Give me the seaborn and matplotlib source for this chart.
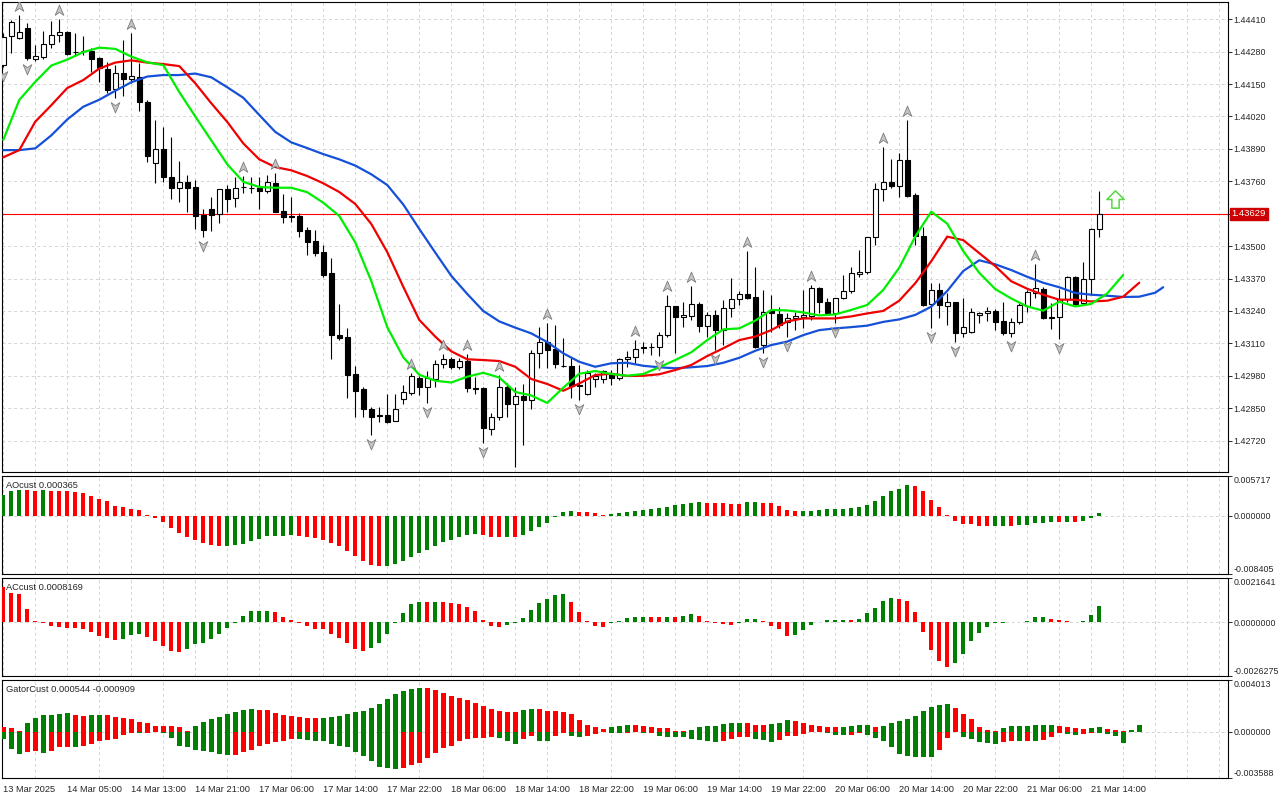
import numpy as np
import matplotlib
matplotlib.use("Agg")
import matplotlib.pyplot as plt
import seaborn as sns
from matplotlib.path import Path
from matplotlib.transforms import offset_copy

# ---- hourly candles (13 Mar 21:00 .. 21 Mar 18:00) ----
opens = [
    1.44226, 1.44343, 1.44333, 1.44373, 1.44249, 1.44260, 1.44309, 1.44347, 1.44357, 1.44280,
    1.44284, 1.44282, 1.44253, 1.44210, 1.44129, 1.44193, 1.44171, 1.44180, 1.44079, 1.43835,
    1.43888, 1.43776, 1.43732, 1.43756, 1.43736, 1.43625, 1.43647, 1.43627, 1.43728, 1.43692,
    1.43737, 1.43734, 1.43734, 1.43722, 1.43752, 1.43642, 1.43619, 1.43621, 1.43565, 1.43522,
    1.43475, 1.43391, 1.43143, 1.43134, 1.42987, 1.42927, 1.42845, 1.42822, 1.42822, 1.42800,
    1.42885, 1.42912, 1.42973, 1.42934, 1.42965, 1.43026, 1.43046, 1.43016, 1.43039, 1.42930,
    1.42930, 1.42765, 1.42813, 1.42936, 1.42867, 1.42899, 1.42883, 1.43070, 1.43114, 1.43086,
    1.43020, 1.43020, 1.42940, 1.42905, 1.42965, 1.42965, 1.42987, 1.42969, 1.43046, 1.43054,
    1.43090, 1.43097, 1.43094, 1.43143, 1.43260, 1.43214, 1.43220, 1.43268, 1.43181, 1.43224,
    1.43163, 1.43250, 1.43286, 1.43306, 1.43297, 1.43103, 1.43244, 1.43228, 1.43197, 1.43210,
    1.43217, 1.43220, 1.43330, 1.43277, 1.43233, 1.43290, 1.43321, 1.43388, 1.43397, 1.43535,
    1.43728, 1.43758, 1.43741, 1.43845, 1.43705, 1.43540, 1.43268, 1.43324, 1.43261, 1.43274,
    1.43150, 1.43157, 1.43222, 1.43230, 1.43240, 1.43200, 1.43150, 1.43197, 1.43260, 1.43310,
    1.43326, 1.43210, 1.43217, 1.43286, 1.43375, 1.43273, 1.43367, 1.43567]
highs = [
    1.44353, 1.44407, 1.44427, 1.44393, 1.44307, 1.44363, 1.44403, 1.44409, 1.44361, 1.44353,
    1.44343, 1.44293, 1.44260, 1.44240, 1.44226, 1.44327, 1.44353, 1.44233, 1.44086, 1.44006,
    1.43979, 1.43939, 1.43841, 1.43785, 1.43765, 1.43647, 1.43698, 1.43729, 1.43745, 1.43778,
    1.43782, 1.43776, 1.43776, 1.43785, 1.43794, 1.43708, 1.43696, 1.43631, 1.43575, 1.43565,
    1.43504, 1.43451, 1.43268, 1.43170, 1.43019, 1.42936, 1.42856, 1.42856, 1.42905, 1.42907,
    1.42943, 1.42990, 1.42979, 1.43000, 1.43043, 1.43066, 1.43056, 1.43050, 1.43067, 1.42976,
    1.42936, 1.42829, 1.42983, 1.42949, 1.42936, 1.42947, 1.43083, 1.43177, 1.43190, 1.43183,
    1.43130, 1.43050, 1.43023, 1.43003, 1.42990, 1.43003, 1.43003, 1.43050, 1.43080, 1.43123,
    1.43114, 1.43110, 1.43157, 1.43304, 1.43260, 1.43277, 1.43340, 1.43277, 1.43237, 1.43244,
    1.43284, 1.43371, 1.43320, 1.43480, 1.43417, 1.43324, 1.43304, 1.43257, 1.43230, 1.43237,
    1.43324, 1.43344, 1.43337, 1.43290, 1.43290, 1.43384, 1.43417, 1.43484, 1.43538, 1.43754,
    1.43899, 1.43848, 1.43872, 1.44006, 1.43712, 1.43578, 1.43353, 1.43353, 1.43313, 1.43277,
    1.43293, 1.43250, 1.43237, 1.43257, 1.43246, 1.43277, 1.43210, 1.43277, 1.43324, 1.43428,
    1.43337, 1.43270, 1.43326, 1.43380, 1.43380, 1.43435, 1.43571, 1.43721]
lows = [
    1.44220, 1.44276, 1.44329, 1.44246, 1.44244, 1.44249, 1.44293, 1.44320, 1.44265, 1.44262,
    1.44266, 1.44200, 1.44159, 1.44113, 1.44095, 1.44102, 1.44153, 1.44043, 1.43839, 1.43754,
    1.43758, 1.43689, 1.43678, 1.43638, 1.43568, 1.43535, 1.43562, 1.43594, 1.43638, 1.43658,
    1.43714, 1.43712, 1.43649, 1.43712, 1.43637, 1.43591, 1.43598, 1.43538, 1.43464, 1.43460,
    1.43377, 1.43046, 1.43123, 1.42889, 1.42816, 1.42816, 1.42742, 1.42796, 1.42789, 1.42800,
    1.42867, 1.42903, 1.42903, 1.42872, 1.42936, 1.43012, 1.43006, 1.43006, 1.42916, 1.42905,
    1.42709, 1.42742, 1.42802, 1.42816, 1.42615, 1.42702, 1.42845, 1.43010, 1.43010, 1.43010,
    1.43014, 1.42889, 1.42883, 1.42903, 1.42936, 1.42949, 1.42943, 1.42963, 1.43016, 1.43030,
    1.43070, 1.43063, 1.43059, 1.43134, 1.43072, 1.43177, 1.43204, 1.43154, 1.43137, 1.43083,
    1.43103, 1.43214, 1.43264, 1.43288, 1.43090, 1.43070, 1.43157, 1.43170, 1.43134, 1.43163,
    1.43170, 1.43204, 1.43230, 1.43224, 1.43190, 1.43286, 1.43310, 1.43377, 1.43388, 1.43504,
    1.43682, 1.43732, 1.43696, 1.43698, 1.43504, 1.43260, 1.43170, 1.43210, 1.43183, 1.43117,
    1.43137, 1.43150, 1.43190, 1.43201, 1.43163, 1.43143, 1.43134, 1.43187, 1.43237, 1.43290,
    1.43207, 1.43166, 1.43126, 1.43277, 1.43264, 1.43270, 1.43304, 1.43538]
closes = [
    1.44340, 1.44397, 1.44357, 1.44253, 1.44262, 1.44311, 1.44347, 1.44357, 1.44269, 1.44277,
    1.44282, 1.44252, 1.44213, 1.44126, 1.44193, 1.44171, 1.44184, 1.44079, 1.43863, 1.43888,
    1.43778, 1.43732, 1.43756, 1.43732, 1.43622, 1.43565, 1.43625, 1.43728, 1.43689, 1.43732,
    1.43738, 1.43733, 1.43722, 1.43756, 1.43638, 1.43618, 1.43618, 1.43562, 1.43518, 1.43474,
    1.43384, 1.43143, 1.43133, 1.42983, 1.42920, 1.42845, 1.42816, 1.42820, 1.42796, 1.42845,
    1.42916, 1.42980, 1.42934, 1.42969, 1.43026, 1.43046, 1.43016, 1.43039, 1.42930, 1.42928,
    1.42769, 1.42813, 1.42936, 1.42865, 1.42899, 1.42883, 1.43070, 1.43114, 1.43083, 1.43026,
    1.43019, 1.42940, 1.42943, 1.42990, 1.42980, 1.42999, 1.42969, 1.43046, 1.43056, 1.43086,
    1.43097, 1.43095, 1.43143, 1.43260, 1.43214, 1.43224, 1.43268, 1.43181, 1.43224, 1.43163,
    1.43250, 1.43286, 1.43306, 1.43290, 1.43097, 1.43234, 1.43230, 1.43183, 1.43210, 1.43220,
    1.43224, 1.43330, 1.43277, 1.43233, 1.43290, 1.43321, 1.43391, 1.43397, 1.43535, 1.43728,
    1.43758, 1.43742, 1.43845, 1.43701, 1.43540, 1.43264, 1.43324, 1.43264, 1.43274, 1.43150,
    1.43177, 1.43234, 1.43230, 1.43240, 1.43197, 1.43150, 1.43197, 1.43264, 1.43314, 1.43330,
    1.43210, 1.43217, 1.43288, 1.43375, 1.43268, 1.43367, 1.43567, 1.43629]

fractal_up = [2, 7, 16, 30, 34, 51, 55, 58, 62, 68, 79, 83, 86, 93, 101, 110, 113, 129]
fractal_down = [0, 3, 14, 25, 46, 53, 60, 72, 82, 89, 95, 98, 104, 116, 119, 126, 132]

signal_index = 139
signal_price = 1.43689

# ---- alligator, read every second bar (shifted forward past the last candle) ----
jaw_idx = list(range(0, 145, 2)) + [145]
jaw = [
    1.43885, 1.43885, 1.43892, 1.43944, 1.44008, 1.44059, 1.44087, 1.44123, 1.44157, 1.44180,
    1.44186, 1.44186, 1.44192, 1.44177, 1.44137, 1.44095, 1.44026, 1.43958, 1.43916, 1.43893,
    1.43869, 1.43848, 1.43823, 1.43788, 1.43745, 1.43667, 1.43569, 1.43474, 1.43381, 1.43308,
    1.43240, 1.43198, 1.43173, 1.43150, 1.43115, 1.43070, 1.43036, 1.43016, 1.43030,
    1.43032, 1.43020, 1.43014, 1.43010, 1.43014, 1.43019, 1.43032, 1.43052, 1.43080, 1.43103,
    1.43117, 1.43143, 1.43163, 1.43170, 1.43175, 1.43181, 1.43196, 1.43206,
    1.43224, 1.43257, 1.43320, 1.43400, 1.43443, 1.43427, 1.43404, 1.43377, 1.43353, 1.43335,
    1.43312, 1.43305, 1.43301, 1.43296, 1.43297, 1.43313, 1.43335]
teeth_idx = list(range(0, 143, 2))
teeth = [
    1.43856, 1.43885, 1.43999, 1.44065, 1.44134, 1.44166, 1.44212, 1.44236, 1.44245, 1.44236,
    1.44230, 1.44222, 1.44153, 1.44073, 1.43998, 1.43912, 1.43848, 1.43817, 1.43804, 1.43781,
    1.43752, 1.43717, 1.43669, 1.43589, 1.43476, 1.43337, 1.43204, 1.43137, 1.43078, 1.43046,
    1.43043, 1.43039, 1.43016, 1.42967, 1.42947, 1.42920, 1.42949, 1.42983, 1.42988,
    1.42979, 1.42980, 1.42986, 1.43003, 1.43023, 1.43059, 1.43090, 1.43123, 1.43137, 1.43163,
    1.43198, 1.43210, 1.43210, 1.43210, 1.43218, 1.43230, 1.43240, 1.43281,
    1.43351, 1.43439, 1.43538, 1.43524, 1.43472, 1.43420, 1.43359, 1.43329, 1.43305, 1.43285,
    1.43285, 1.43278, 1.43281, 1.43297, 1.43353]
lips_idx = list(range(0, 141, 2))
lips = [
    1.43926, 1.44086, 1.44159, 1.44224, 1.44248, 1.44278, 1.44296, 1.44291, 1.44260, 1.44237,
    1.44226, 1.44118, 1.44020, 1.43924, 1.43828, 1.43758, 1.43737, 1.43734, 1.43734, 1.43716,
    1.43674, 1.43621, 1.43515, 1.43360, 1.43175, 1.43054, 1.42984, 1.42960, 1.42953, 1.42976,
    1.42992, 1.42973, 1.42915, 1.42901, 1.42871, 1.42932, 1.42988, 1.42999, 1.42987,
    1.42980, 1.42987, 1.43014, 1.43043, 1.43074, 1.43123, 1.43166, 1.43170, 1.43201, 1.43244,
    1.43242, 1.43234, 1.43222, 1.43226, 1.43244, 1.43264, 1.43324, 1.43413,
    1.43538, 1.43638, 1.43590, 1.43480, 1.43393, 1.43328, 1.43290, 1.43258, 1.43241, 1.43277,
    1.43258, 1.43268, 1.43310, 1.43384]

# ---- oscillators (g = rising bar, r = falling bar) ----
ao = [
    0.00302, 0.00360, 0.00366, 0.00364, 0.00362, 0.00365, 0.00361, 0.00358, 0.00350, 0.00336,
    0.00326, 0.00288, 0.00240, 0.00206, 0.00144, 0.00120, 0.00101, 0.00077, 0.00014, -0.00034,
    -0.00096, -0.00178, -0.00250, -0.00312, -0.00350, -0.00394, -0.00427, -0.00442, -0.00440, -0.00427,
    -0.00403, -0.00370, -0.00331, -0.00298, -0.00288, -0.00286, -0.00284, -0.00298, -0.00312, -0.00322,
    -0.00346, -0.00394, -0.00442, -0.00504, -0.00576, -0.00658, -0.00706, -0.00730, -0.00726, -0.00700,
    -0.00658, -0.00595, -0.00538, -0.00494, -0.00442, -0.00379, -0.00350, -0.00307, -0.00278, -0.00264,
    -0.00283, -0.00307, -0.00309, -0.00306, -0.00312, -0.00278, -0.00221, -0.00163, -0.00106, -0.00019,
    0.00048, 0.00062, 0.00048, 0.00046, 0.00034, 0.00014, 0.00019, 0.00034, 0.00048, 0.00062,
    0.00077, 0.00096, 0.00110, 0.00130, 0.00149, 0.00163, 0.00182, 0.00202, 0.00187, 0.00186,
    0.00178, 0.00173, 0.00172, 0.00202, 0.00203, 0.00187, 0.00178, 0.00144, 0.00082, 0.00072,
    0.00073, 0.00074, 0.00086, 0.00091, 0.00092, 0.00096, 0.00110, 0.00130, 0.00158, 0.00216,
    0.00283, 0.00350, 0.00389, 0.00446, 0.00422, 0.00355, 0.00230, 0.00130, 0.00003, -0.00082,
    -0.00115, -0.00120, -0.00144, -0.00154, -0.00144, -0.00142, -0.00154, -0.00139, -0.00130, -0.00110,
    -0.00100, -0.00090, -0.00094, -0.00088, -0.00092, -0.00070, -0.00035, 0.000365]
ao_dir = ("gggrrgrrrr" "rrrrrrrrrrrrrrrrrr" "ggggggggg" "rrrrrrrrrrr" "gggggggggggg"
          "rrrgr" "ggggggg" "rrrr" "gggggggggggg" "rrrrr" "gg" "rrrrr" "gggggggggggggg"
          "rrrrrrrrrr" "ggr" "ggggg" "rgr" "ggg")

ac = [
    0.00174, 0.00145, 0.00137, 0.00064, 0.00005, -0.00005, -0.00019, -0.00022, -0.00027, -0.00030,
    -0.00032, -0.00047, -0.00067, -0.00076, -0.00087, -0.00080, -0.00061, -0.00056, -0.00071, -0.00092,
    -0.00116, -0.00140, -0.00143, -0.00129, -0.00104, -0.00100, -0.00082, -0.00056, -0.00027, -0.00003,
    0.00032, 0.00053, 0.00056, 0.00057, 0.00048, 0.00026, 0.00013, -0.00002, -0.00016, -0.00031,
    -0.00034, -0.00056, -0.00079, -0.00103, -0.00132, -0.00140, -0.00124, -0.00100, -0.00055, -0.00002,
    0.00043, 0.00087, 0.00101, 0.00100, 0.00101, 0.00100, 0.00092, 0.00087, 0.00077, 0.00053,
    0.00010, -0.00018, -0.00024, -0.00013, -0.00006, 0.00019, 0.00058, 0.00092, 0.00116, 0.00135,
    0.00140, 0.00101, 0.00048, 0.00005, -0.00018, -0.00022, -0.00005, 0.00005, 0.00019, 0.00024,
    0.00027, 0.00026, 0.00025, 0.00028, 0.00026, 0.00029, 0.00041, 0.00031, 0.00005, -0.00003,
    -0.00010, -0.00011, -0.00003, 0.00016, 0.00017, 0.00005, -0.00019, -0.00035, -0.00067, -0.00061,
    -0.00039, -0.00014, 0.00000, 0.00010, 0.00011, 0.00013, 0.00010, 0.00018, 0.00045, 0.00072,
    0.00105, 0.00118, 0.00114, 0.00105, 0.00050, -0.00047, -0.00135, -0.00188, -0.00220, -0.00201,
    -0.00156, -0.00092, -0.00051, -0.00022, -0.00006, -0.00002, 0.00001, 0.00003, 0.00005, 0.00027,
    0.00028, 0.00016, 0.00010, 0.00005, 0.00002, 0.00004, 0.00037, 0.0008169]
ac_dir = ("rrrrrrrrrrrrrrr" "ggg" "rrrrr" "ggggggggggg" "rrrrrrrrrrrr" "ggggggg" "rg"
          "rrrrrrrr" "gggggggg" "rrrrr" "ggggg" "rrgrgg" "rrrrr" "ggg" "rrrr" "ggggggg" "r"
          "ggggg" "rrrrrrr" "gggggggggggg" "rrrr" "ggg")

gator_up = [
    0.00038, 0.00026, 0.00008, 0.00064, 0.00110, 0.00130, 0.00133, 0.00140, 0.00148, 0.00130,
    0.00122, 0.00130, 0.00133, 0.00130, 0.00115, 0.00110, 0.00097, 0.00077, 0.00064, 0.00048,
    0.00046, 0.00042, 0.00037, 0.00008, 0.00046, 0.00079, 0.00102, 0.00117, 0.00140, 0.00156,
    0.00171, 0.00173, 0.00172, 0.00166, 0.00148, 0.00130, 0.00122, 0.00115, 0.00110, 0.00107,
    0.00110, 0.00117, 0.00125, 0.00140, 0.00153, 0.00161, 0.00184, 0.00217, 0.00255, 0.00296,
    0.00314, 0.00334, 0.00339, 0.00337, 0.00321, 0.00301, 0.00275, 0.00260, 0.00250, 0.00224,
    0.00199, 0.00173, 0.00161, 0.00156, 0.00153, 0.00171, 0.00176, 0.00173, 0.00161, 0.00158,
    0.00155, 0.00135, 0.00094, 0.00054, 0.00036, 0.00020, 0.00038, 0.00046, 0.00054, 0.00053,
    0.00046, 0.00038, 0.00028, 0.00026, 0.00008, 0.00007, 0.00015, 0.00038, 0.00046, 0.00047,
    0.00059, 0.00069, 0.00070, 0.00068, 0.00054, 0.00053, 0.00061, 0.00069, 0.00094, 0.00084,
    0.00069, 0.00054, 0.00046, 0.00038, 0.00037, 0.00038, 0.00046, 0.00051, 0.00052, 0.00038,
    0.00046, 0.00064, 0.00082, 0.00097, 0.00122, 0.00161, 0.00194, 0.00207, 0.00217, 0.00184,
    0.00140, 0.00097, 0.00033, 0.00015, 0.00008, 0.00030, 0.00045, 0.00047, 0.00048, 0.00049,
    0.00050, 0.00051, 0.00047, 0.00040, 0.00027, 0.00020, 0.00027, 0.00033, 0.00020, 0.00012,
    0.00005, 0.00016, 0.000544]
gator_up_dir = ("rrr" "gggggg" "rr" "gg" "rrrrrrrrrrr" "gggggggg" "rrrrrrrr" "ggggggggggggg"
                "rrrrrrrrrrrr" "gg" "rrrrrrrrr" "ggg" "rrrrrrr" "ggggggg" "rrr" "ggg" "rrrrrr"
                "gggg" "r" "ggggggggg" "rrrrrr" "ggggggg" "rrrr" "gg" "rrr" "gg")
gator_dn = [
    -0.00056, -0.00133, -0.00176, -0.00158, -0.00153, -0.00166, -0.00153, -0.00120, -0.00115, -0.00118,
    -0.00112, -0.00094, -0.00074, -0.00064, -0.00056, -0.00026, -0.00008, -0.00010, -0.00008, -0.00005,
    -0.00010, -0.00051, -0.00107, -0.00120, -0.00138, -0.00153, -0.00158, -0.00176, -0.00184, -0.00181,
    -0.00158, -0.00145, -0.00112, -0.00094, -0.00082, -0.00069, -0.00056, -0.00059, -0.00064, -0.00069,
    -0.00071, -0.00094, -0.00107, -0.00115, -0.00158, -0.00191, -0.00230, -0.00273, -0.00281, -0.00291,
    -0.00278, -0.00260, -0.00240, -0.00204, -0.00166, -0.00128, -0.00107, -0.00071, -0.00056, -0.00051,
    -0.00046, -0.00043, -0.00051, -0.00074, -0.00094, -0.00056, -0.00036, -0.00071, -0.00074, -0.00036,
    -0.00013, -0.00031, -0.00038, -0.00036, -0.00018, -0.00005, -0.00008, -0.00010, -0.00008, -0.00005,
    -0.00010, -0.00008, -0.00030, -0.00038, -0.00039, -0.00040, -0.00056, -0.00064, -0.00068, -0.00082,
    -0.00074, -0.00056, -0.00043, -0.00038, -0.00056, -0.00064, -0.00082, -0.00064, -0.00031, -0.00030,
    -0.00018, -0.00005, -0.00004, -0.00010, -0.00023, -0.00026, -0.00023, -0.00010, -0.00026, -0.00049,
    -0.00074, -0.00120, -0.00171, -0.00191, -0.00194, -0.00196, -0.00199, -0.00145, -0.00051, -0.00005,
    -0.00044, -0.00056, -0.00079, -0.00088, -0.00092, -0.00082, -0.00069, -0.00072, -0.00071, -0.00074,
    -0.00064, -0.00038, -0.00010, -0.00018, -0.00026, -0.00020, -0.00008, -0.00012, -0.00018, -0.00031,
    -0.000909]
gator_dn_dir = ("gggrrgrrrg" "rrrrrrrgrr" "ggggggggg" "rrrrrrrr" "ggggggggggggg" "rrrrrrrrrrrr"
                "ggg" "rr" "gg" "rr" "gg" "rrr" "gg" "rr" "gr" "gggggggg" "rrrr" "ggg" "rrrrrr"
                "ggg" "rr" "ggggggggg" "rrr" "ggggg" "rr" "grg" "rrr" "gg" "rr" "gggg")

# ---- axis scales as shown by the terminal ----
price_ticks = [1.44410, 1.44280, 1.44150, 1.44020, 1.43890, 1.43760, 1.43630,
               1.43500, 1.43370, 1.43240, 1.43110, 1.42980, 1.42850, 1.42720]
price_range = (1.42594, 1.44479)
ao_range = (-0.008405, 0.005717)
ac_range = (-0.0026275, 0.0021641)
gator_range = (-0.003588, 0.004013)
time_labels = ["13 Mar 2025", "14 Mar 05:00", "14 Mar 13:00", "14 Mar 21:00", "17 Mar 06:00",
               "17 Mar 14:00", "17 Mar 22:00", "18 Mar 06:00", "18 Mar 14:00", "18 Mar 22:00",
               "19 Mar 06:00", "19 Mar 14:00", "19 Mar 22:00", "20 Mar 06:00", "20 Mar 14:00",
               "20 Mar 22:00", "21 Mar 06:00", "21 Mar 14:00"]

# -----------------------------
# Style
# -----------------------------
sns.set_style("white")
plt.rcParams["font.family"] = ["Liberation Sans", "DejaVu Sans"]
plt.rcParams["font.size"] = 6.4

GREEN = "#008000"
RED = "#ff0000"
GRID = "#d4d4d4"
DASH = (0, (3, 3))
FS = 6.4
W, H = 1280, 800

fig = plt.figure(figsize=(12.8, 8), dpi=100)


def px_axes(x0, y0, x1, y1):
    return fig.add_axes([x0 / W, 1 - y1 / H, (x1 - x0) / W, (y1 - y0) / H])


ax = px_axes(2, 2, 1228, 472)
ax_ao = px_axes(2, 476, 1228, 574)
ax_ac = px_axes(2, 578, 1228, 676)
ax_gt = px_axes(2, 680, 1228, 778)
panels = [ax, ax_ao, ax_ac, ax_gt]

for a in panels:
    a.set_xlim(-0.16, 153.1)
    a.set_xticks(np.arange(0, 154, 4), minor=True)
    a.grid(True, which="minor", axis="x", color=GRID, ls=DASH, lw=0.7, zorder=0)
    a.set_xticks([])
    a.tick_params(axis="x", which="minor", length=0)
    a.yaxis.tick_right()
    a.tick_params(axis="y", direction="out", length=2.8, width=0.7, pad=1.2, labelsize=FS)
    for s in a.spines.values():
        s.set_color("black")
        s.set_linewidth(0.8)

# -----------------------------
# Main price window
# -----------------------------
idx = np.arange(len(closes))
o, h, l, c = map(np.array, (opens, highs, lows, closes))
bull = c >= o
body_lo = np.minimum(o, c)
body_h = np.maximum(np.abs(c - o), 0.000015)

ax.axhline(closes[-1], color=RED, lw=0.8, zorder=2)
ax.vlines(idx, l, h, color="black", lw=0.8, zorder=3)
ax.bar(idx[bull], body_h[bull], bottom=body_lo[bull], width=0.66,
       color="white", edgecolor="black", lw=0.8, zorder=4)
ax.bar(idx[~bull], body_h[~bull], bottom=body_lo[~bull], width=0.66,
       color="black", edgecolor="black", lw=0.8, zorder=4)

sns.lineplot(x=jaw_idx, y=jaw, color="#1550d8", lw=1.6, ax=ax, zorder=5)
sns.lineplot(x=teeth_idx, y=teeth, color="#f00000", lw=1.6, ax=ax, zorder=5)
sns.lineplot(x=lips_idx, y=lips, color="#00ee00", lw=1.6, ax=ax, zorder=5)

# fractal darts above highs / below lows
dart_up = Path([(0, 1), (0.8, -0.9), (0, -0.35), (-0.8, -0.9), (0, 1)],
               [Path.MOVETO, Path.LINETO, Path.LINETO, Path.LINETO, Path.CLOSEPOLY])
dart_dn = Path([(0, -1), (0.8, 0.9), (0, 0.35), (-0.8, 0.9), (0, -1)],
               [Path.MOVETO, Path.LINETO, Path.LINETO, Path.LINETO, Path.CLOSEPOLY])
up_tr = offset_copy(ax.transData, fig=fig, y=9, units="dots")
dn_tr = offset_copy(ax.transData, fig=fig, y=-9, units="dots")
ax.plot(fractal_up, h[fractal_up], ls="none", marker=dart_up, ms=7.8,
        mfc="#c4c4c4", mec="#7c7c7c", mew=0.6, transform=up_tr, zorder=6)
ax.plot(fractal_down, l[fractal_down], ls="none", marker=dart_dn, ms=7.8,
        mfc="#c4c4c4", mec="#7c7c7c", mew=0.6, transform=dn_tr, zorder=6)

# buy signal arrow
hollow_up = Path([(0, 1), (1, 0), (0.42, 0), (0.42, -1), (-0.42, -1), (-0.42, 0), (-1, 0), (0, 1)],
                 [Path.MOVETO] + [Path.LINETO] * 6 + [Path.CLOSEPOLY])
ax.plot([signal_index], [signal_price], ls="none", marker=hollow_up, ms=12.5,
        mfc="white", mec="#55d840", mew=1.1, zorder=6)

ax.set_ylim(*price_range)
ax.set_yticks(price_ticks,
              labels=["" if abs(t - closes[-1]) < 0.00005 else f"{t:.5f}" for t in price_ticks])
ax.grid(True, which="major", axis="y", color=GRID, ls=DASH, lw=0.7, zorder=0)
ax.annotate(f"{closes[-1]:.5f}", xy=(1.0, closes[-1]), xycoords=("axes fraction", "data"),
            xytext=(2.5, 0), textcoords="offset points", ha="left", va="center",
            color="white", fontsize=FS + 0.4, annotation_clip=False,
            bbox=dict(boxstyle="square,pad=0.2", fc="#cc0000", ec="#cc0000"))

# -----------------------------
# Oscillator windows
# -----------------------------
def histogram(a, values, dirs, width):
    cols = [GREEN if d == "g" else RED for d in dirs]
    a.bar(np.arange(len(values)), values, width=width, color=cols, lw=0, zorder=3)
    a.axhline(0, color=GRID, ls=DASH, lw=0.7, zorder=1)


def edge_ticks(a, rng, fmt):
    ticks = [rng[1], 0.0, rng[0]]
    a.set_ylim(*rng)
    a.set_yticks(ticks, labels=[fmt.format(t) for t in ticks])
    labels = a.get_yticklabels()
    labels[0].set_va("top")
    labels[2].set_va("bottom")


histogram(ax_ao, ao, ao_dir, 0.55)
edge_ticks(ax_ao, ao_range, "{:.6f}")
ax_ao.text(0.0035, 0.95, f"AOcust {ao[-1]:.6f}", transform=ax_ao.transAxes,
           ha="left", va="top", fontsize=FS + 0.3)

histogram(ax_ac, ac, ac_dir, 0.55)
edge_ticks(ax_ac, ac_range, "{:.7f}")
ax_ac.text(0.0035, 0.95, f"ACcust {ac[-1]:.7f}", transform=ax_ac.transAxes,
           ha="left", va="top", fontsize=FS + 0.3)

histogram(ax_gt, gator_up, gator_up_dir, 0.6)
ax_gt.bar(np.arange(len(gator_dn)), gator_dn, width=0.6,
          color=[GREEN if d == "g" else RED for d in gator_dn_dir], lw=0, zorder=3)
edge_ticks(ax_gt, gator_range, "{:.6f}")
ax_gt.text(0.0035, 0.95, f"GatorCust {gator_up[-1]:.6f} {gator_dn[-1]:.6f}",
           transform=ax_gt.transAxes, ha="left", va="top", fontsize=FS + 0.3)

# time axis under the last window
ax_gt.set_xticks(np.arange(0, 8 * len(time_labels), 8), labels=time_labels)
ax_gt.tick_params(axis="x", which="major", direction="out", length=3.5, width=0.7,
                  pad=1.5, labelsize=FS + 0.3)
for t in ax_gt.get_xticklabels():
    t.set_ha("left")

fig.savefig("out.png", dpi=100)
